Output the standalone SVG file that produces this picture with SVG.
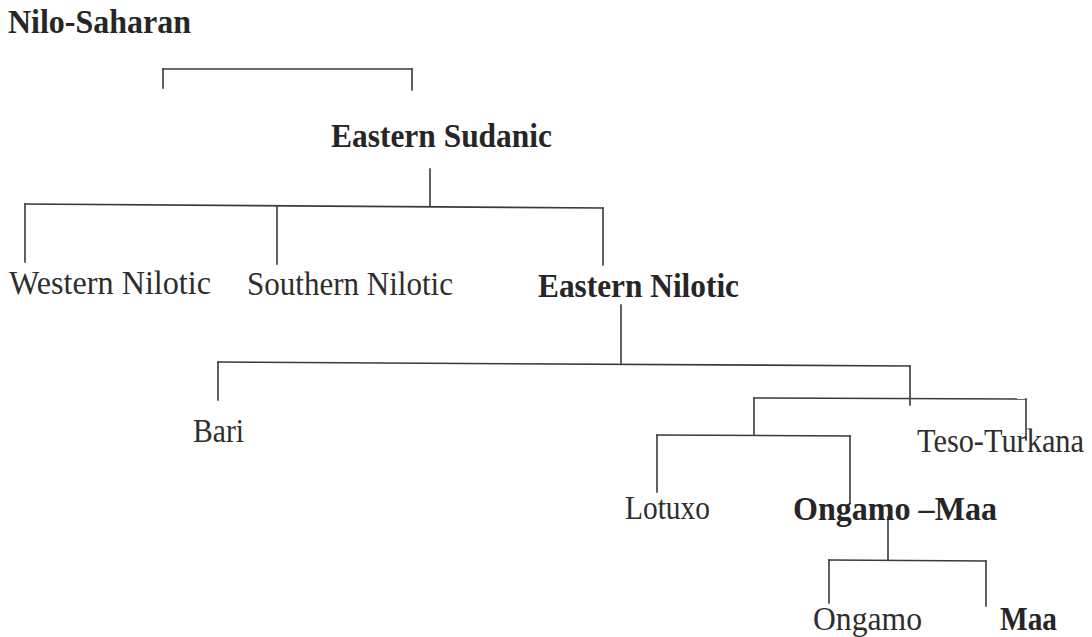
<svg xmlns="http://www.w3.org/2000/svg" width="1092" height="637" viewBox="0 0 1092 637">
<style>
  .t { font-family: "Liberation Serif", "Times New Roman", serif; font-size: 34px; fill: #2e2e2e; }
  .b { font-weight: bold; font-size: 33px; fill: #262626; }
  .c line { stroke: #3a3a3a; stroke-width: 1.6; stroke-linecap: square; }
</style>
<rect width="1092" height="637" fill="#ffffff"/>
<g id="connectors" class="c">
  <line x1="163" y1="69" x2="412" y2="69"/>
  <line x1="163" y1="69" x2="163" y2="88"/>
  <line x1="412" y1="69" x2="412" y2="90"/>
  <line x1="430" y1="169" x2="430" y2="206"/>
  <line x1="25" y1="204" x2="603" y2="208"/>
  <line x1="25" y1="204" x2="25" y2="262"/>
  <line x1="277" y1="206" x2="277" y2="264"/>
  <line x1="603" y1="208" x2="603" y2="265"/>
  <line x1="621" y1="305" x2="621" y2="363"/>
  <line x1="218" y1="362" x2="910" y2="366"/>
  <line x1="218" y1="362" x2="218" y2="400"/>
  <line x1="910" y1="366" x2="910" y2="405"/>
  <line x1="754" y1="398" x2="1026" y2="399"/>
  <line x1="754" y1="398" x2="754" y2="435"/>
  <line x1="1026" y1="399" x2="1026" y2="440"/>
  <line x1="657" y1="435" x2="850" y2="436"/>
  <line x1="657" y1="435" x2="657" y2="492"/>
  <line x1="850" y1="436" x2="850" y2="503"/>
  <line x1="888" y1="517" x2="888" y2="560"/>
  <line x1="829" y1="560" x2="986" y2="561"/>
  <line x1="829" y1="560" x2="829" y2="603"/>
  <line x1="986" y1="561" x2="986" y2="606"/>
</g>
<g id="nilo-saharan"><text class="t b" x="8" y="33" textLength="183" lengthAdjust="spacingAndGlyphs">Nilo-Saharan</text></g>
<g id="eastern-sudanic"><text class="t b" x="331" y="147" textLength="221" lengthAdjust="spacingAndGlyphs">Eastern Sudanic</text></g>
<g id="western-nilotic"><text class="t" x="9" y="294" textLength="202" lengthAdjust="spacingAndGlyphs">Western Nilotic</text></g>
<g id="southern-nilotic"><text class="t" x="247" y="295" textLength="206" lengthAdjust="spacingAndGlyphs">Southern Nilotic</text></g>
<g id="eastern-nilotic"><text class="t b" x="538" y="297" textLength="201" lengthAdjust="spacingAndGlyphs">Eastern Nilotic</text></g>
<g id="bari"><text class="t" x="193" y="442" textLength="51" lengthAdjust="spacingAndGlyphs">Bari</text></g>
<g id="teso-turkana"><text class="t" x="917" y="452" textLength="167" lengthAdjust="spacingAndGlyphs">Teso-Turkana</text></g>
<g id="lotuxo"><text class="t" x="625" y="519" textLength="85" lengthAdjust="spacingAndGlyphs">Lotuxo</text></g>
<g id="ongamo-maa"><text class="t b" x="793" y="520" textLength="204" lengthAdjust="spacingAndGlyphs">Ongamo –Maa</text></g>
<g id="ongamo"><text class="t" x="813" y="630" textLength="109" lengthAdjust="spacingAndGlyphs">Ongamo</text></g>
<g id="maa"><text class="t b" x="1000" y="630" textLength="57" lengthAdjust="spacingAndGlyphs">Maa</text></g>
</svg>
